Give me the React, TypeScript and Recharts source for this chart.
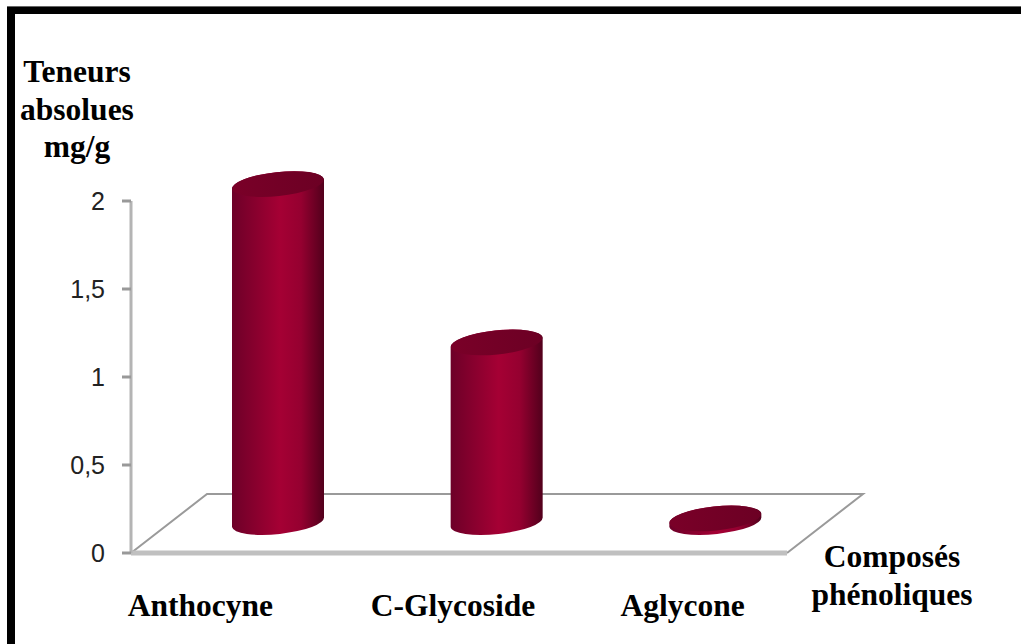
import React from "react";
import { BarChart, Bar, XAxis, YAxis, Customized } from "recharts";

const categories = ["Anthocyne", "C-Glycoside", "Aglycone"];
const teneurs = [1.92, 1.02, 0.02];
const yTicks = [0, 0.5, 1, 1.5, 2];
const yTitleLines = ["Teneurs", "absolues", "mg/g"];
const xTitleLines = ["Composés", "phénoliques"];
// the category names don't sit centred under the floor slots
const labelShift = [-40, -6, 5];

const data = categories.map((nom, i) => ({ nom, teneur: teneurs[i] }));

const W = 1021;
const H = 644;
const plot = { left: 131, right: 787, top: 201, bottom: 553 };
// bars stand half way back on the floor
const depth = { dx: 76, dy: -59 };
const barOffset = { dx: 38, dy: -31 };
const titleFont = "'Liberation Serif', 'Times New Roman', serif";

const Cylinder = (props: any) => {
  const { x, y, width, height } = props;
  const rx = width / 2;
  const ry = 12;
  const tilt = 5;
  const cx = x + rx + barOffset.dx;
  const top = y + barOffset.dy;
  const bottom = y + height + barOffset.dy;
  const body = `M${cx - rx},${top + tilt} L${cx - rx},${bottom + tilt}
    A${rx},${ry} -6 0 0 ${cx + rx},${bottom - tilt}
    L${cx + rx},${top - tilt}
    A${rx},${ry} -6 0 0 ${cx - rx},${top + tilt} Z`;
  return (
    <g>
      <path d={body} fill="url(#cylindre)" />
      <ellipse cx={cx} cy={top} rx={rx} ry={ry} fill="url(#dessus)" transform={`rotate(-6 ${cx} ${top})`} />
    </g>
  );
};

const Floor = () => {
  const { left, right, bottom } = plot;
  const d = `M${left},${bottom} L${left + depth.dx},${bottom + depth.dy} L${right + depth.dx},${bottom + depth.dy} L${right},${bottom}`;
  return <path d={d} fill="none" stroke="#9a9a9a" strokeWidth={2} />;
};

const Titles = () => (
  <g fontFamily={titleFont} fontWeight="bold" fontSize={31.5} fill="#000" textAnchor="middle">
    {yTitleLines.map((t, i) => (
      <text key={t} x={77} y={82 + i * 37.5}>{t}</text>
    ))}
    {xTitleLines.map((t, i) => (
      <text key={t} x={892} y={567 + i * 38}>{t}</text>
    ))}
  </g>
);

const CategoryTick = (props: any) => {
  const { x, y, index, payload } = props;
  return (
    <text x={x + labelShift[index]} y={y + 55} textAnchor="middle" fontFamily={titleFont} fontWeight="bold" fontSize={31.5} fill="#000">
      {payload.value}
    </text>
  );
};

export default function App() {
  return (
    <div style={{ position: "absolute", left: 0, top: 0, width: W, height: H, background: "#fff", overflow: "hidden" }}>
      <div style={{ position: "absolute", left: 7, top: 6, right: 0, height: 1, background: "#666" }} />
      <div style={{ position: "absolute", left: 7, top: 7, right: 0, bottom: 0, borderLeft: "8px solid #000", borderTop: "7px solid #000" }} />
      <BarChart
        width={W}
        height={H}
        data={data}
        barSize={92}
        margin={{ top: plot.top, right: W - plot.right, bottom: 0, left: plot.left - 60 }}
        style={{ position: "absolute", left: 0, top: 0 }}
      >
        <defs>
          <linearGradient id="cylindre" x1="0" y1="0" x2="1" y2="0">
            <stop offset="0" stopColor="#6d0028" />
            <stop offset="0.52" stopColor="#a50034" />
            <stop offset="0.75" stopColor="#950030" />
            <stop offset="1" stopColor="#52001c" />
          </linearGradient>
          <linearGradient id="dessus" x1="0" y1="0" x2="1" y2="0">
            <stop offset="0" stopColor="#7a0028" />
            <stop offset="1" stopColor="#6c0024" />
          </linearGradient>
        </defs>
        <Customized component={Floor} />
        <XAxis
          dataKey="nom"
          height={H - plot.bottom}
          axisLine={{ stroke: "#c0c0c0", strokeWidth: 5 }}
          tickLine={false}
          tick={<CategoryTick />}
          interval={0}
        />
        <YAxis
          width={60}
          domain={[0, 2]}
          ticks={yTicks}
          tickFormatter={(v: number) => String(v).replace(".", ",")}
          axisLine={{ stroke: "#b4b4b4", strokeWidth: 3 }}
          tickLine={{ stroke: "#999", strokeWidth: 3 }}
          tickSize={9}
          tickMargin={17}
          tick={{ fill: "#222", fontSize: 25, fontFamily: "'Liberation Sans', Arial, sans-serif" }}
        />
        <Bar dataKey="teneur" isAnimationActive={false} shape={<Cylinder />} />
        <Customized component={Titles} />
      </BarChart>
    </div>
  );
}
